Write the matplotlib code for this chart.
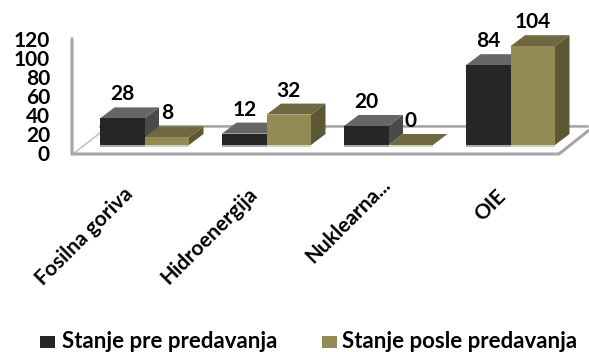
import matplotlib
matplotlib.use('Agg')
import matplotlib.pyplot as plt
from matplotlib.patches import Polygon, Rectangle

categories = ['Fosilna goriva', 'Hidroenergija', 'Nuklearna...', 'OIE']
pre_values = [28, 12, 20, 84]
posle_values = [8, 32, 0, 104]
y_ticks = [0, 20, 40, 60, 80, 100, 120]
series_names = ['Stanje pre predavanja', 'Stanje posle predavanja']

W, H = 589, 352
GROUP_PX = 122.0     # pixels per category
VALUE_PX = 0.95      # pixels per value unit
X0, Y0 = 144.5, 145  # pixel position of first category centre, value 0

plt.rcParams['font.family'] = ['Lato', 'DejaVu Sans']

fig = plt.figure(figsize=(W / 100, H / 100), dpi=100)
ax = fig.add_axes([0, 0, 1, 1])
ax.set_xlim(-X0 / GROUP_PX, (W - X0) / GROUP_PX)
ax.set_ylim(-(H - Y0) / VALUE_PX, Y0 / VALUE_PX)
ax.axis('off')

bar_w = 44.5 / GROUP_PX
dx = 14.5 / GROUP_PX  # depth of the boxes
dy = 11 / VALUE_PX

def px(x_pixel, y_pixel):
    return (x_pixel - X0) / GROUP_PX, (Y0 - y_pixel) / VALUE_PX

# floor outline
floor_c = '#a6a6a6'
ax.add_patch(Polygon([px(73, 154), px(100, 133), px(102, 126), px(587, 126)], closed=False,
                     fill=False, ec='#c4c4c4', lw=1.2, zorder=1))
ax.plot(*zip(px(100, 126), px(587, 126)), color=floor_c, lw=1.8, zorder=1)
ax.plot(*zip(px(72, 39), px(72, 154), px(559, 154), px(588, 131)), color=floor_c, lw=2.2, zorder=1,
        solid_joinstyle='miter')

def box(x_left, value, front, top, side, shadow):
    z = 3
    ax.add_patch(Rectangle((x_left, -2.5), bar_w, 2.5, fc=shadow, ec='none', zorder=z))
    ax.add_patch(Polygon([(x_left + bar_w, 0), (x_left + bar_w + dx, dy),
                          (x_left + bar_w + dx, value + dy), (x_left + bar_w, value)],
                         fc=side, ec='none', zorder=z))
    ax.add_patch(Polygon([(x_left, value), (x_left + dx, value + dy),
                          (x_left + bar_w + dx, value + dy), (x_left + bar_w, value)],
                         fc=top, ec='none', zorder=z))
    ax.bar(x_left, value, bar_w, align='edge', color=front, zorder=z)

pre_colors = ('#262626', '#666666', '#4a4a4a', '#a9a9a9')
posle_colors = ('#948a54', '#6f6840', '#5c5734', '#d6d2b8')

for i in range(len(categories)):
    box(i - bar_w, pre_values[i], *pre_colors)
    box(i, posle_values[i], *posle_colors)

# value labels above the boxes
for i in range(len(categories)):
    for x_left, v in ((i - bar_w, pre_values[i]), (i, posle_values[i])):
        ax.annotate(str(v), (x_left + bar_w / 2, v), xytext=(0, 24), textcoords='offset pixels',
                    ha='center', va='center', fontsize=15, fontweight='bold', color='black', zorder=6)

# value axis labels sit on the front edge of the floor
for t in y_ticks:
    ax.annotate(str(t), (px(50, 0)[0], t), xytext=(0, -10), textcoords='offset pixels',
                ha='right', va='center', fontsize=15, fontweight='bold', color='black')

# rotated category names
name_offsets = [(-60, -91), (-57, -91), (-40, -76), (-20, -60)]
for i, name in enumerate(categories):
    ax.annotate(name, (i, 0), xytext=name_offsets[i], textcoords='offset pixels',
                ha='center', va='center', rotation=45, rotation_mode='anchor',
                fontsize=15, fontweight='bold', color='black')

# legend
for x_patch, x_text, name, c in ((40, 62, series_names[0], pre_colors[0]),
                                 (322, 342, series_names[1], posle_colors[0])):
    x, y = px(x_patch, 348)
    ax.add_patch(Rectangle((x, y), 15 / GROUP_PX, 12 / VALUE_PX, fc=c, ec='none'))
    ax.text(px(x_text, 0)[0], px(0, 341)[1], name, ha='left', va='center',
            fontsize=16, fontweight='bold', color='black')

fig.savefig('out.png', dpi=100, facecolor='white')
